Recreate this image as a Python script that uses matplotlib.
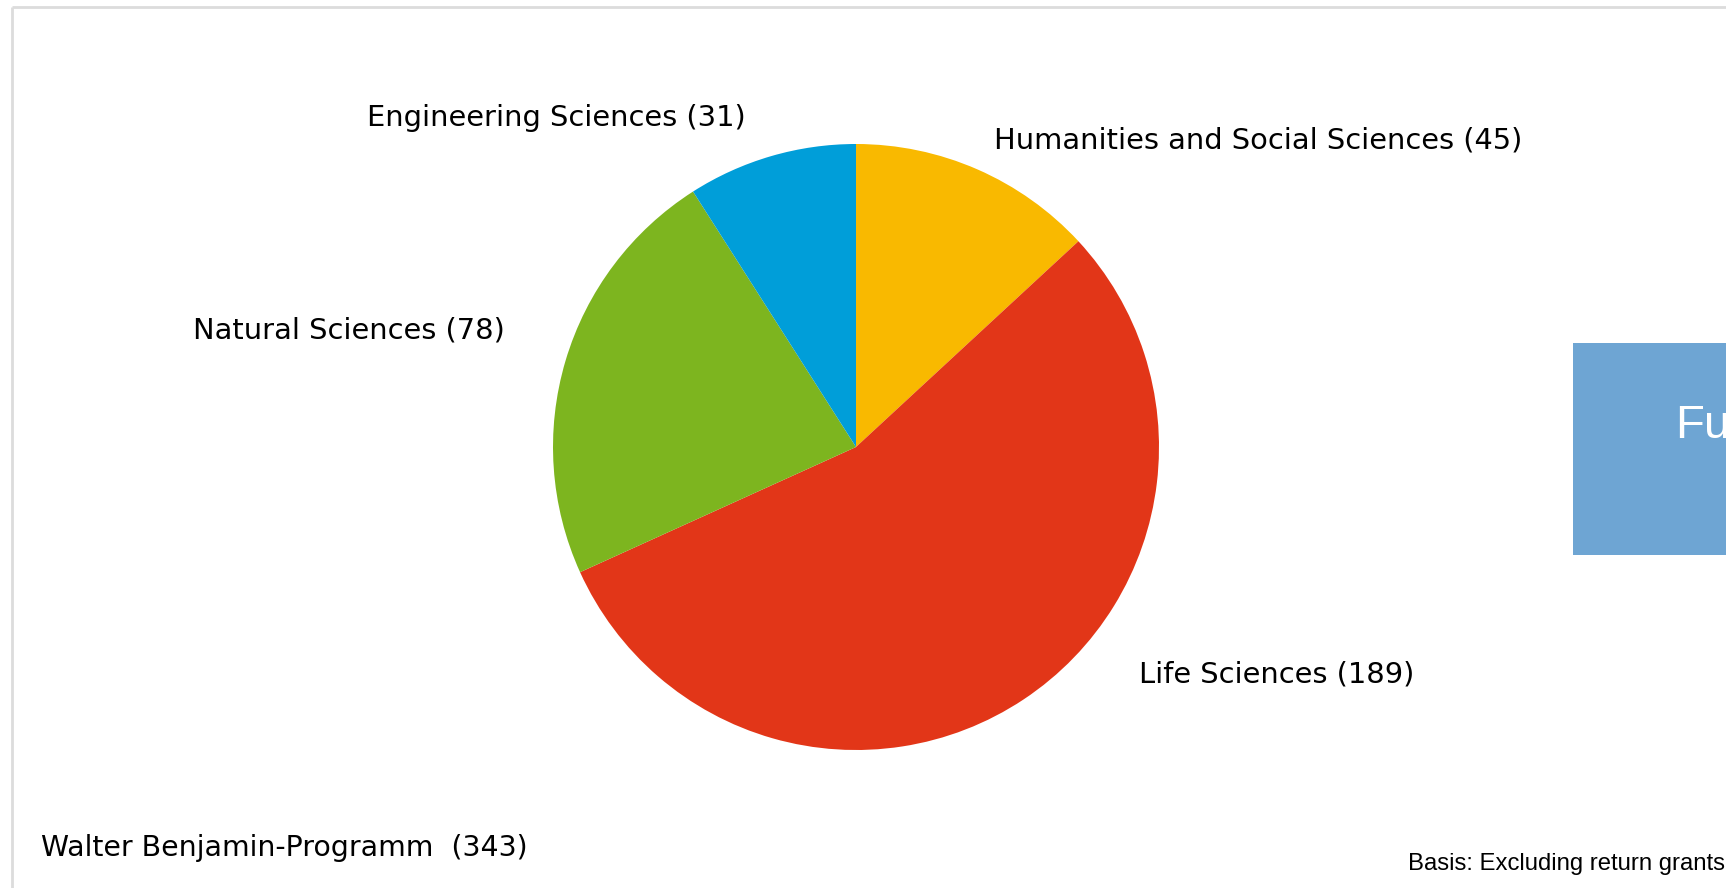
import numpy as np
import matplotlib.pyplot as plt
from matplotlib.patches import Rectangle

# data
categories = ['Humanities and Social Sciences', 'Life Sciences',
              'Natural Sciences', 'Engineering Sciences']
counts = [45, 189, 78, 31]
colors = ['#F9B900', '#E23618', '#7DB51F', '#009ED9']
total_label = 'Walter Benjamin-Programm  (343)'
note = 'Basis: Excluding return grants'

W, H = 1726, 888
fig = plt.figure(figsize=(W / 100, H / 100), dpi=100)
ax = fig.add_axes([0, 0, 1, 1])

plt.rcParams['font.family'] = ['DejaVu Sans']

# outer light frame (cropped on right and bottom)
ax.plot([12, 12], [0, H - 7], color='#DCDCDC', lw=2, solid_capstyle='butt')
ax.plot([12, W], [H - 7, H - 7], color='#DCDCDC', lw=2, solid_capstyle='butt')

ax.pie(counts, colors=colors, startangle=90, counterclock=False,
       center=(856, H - 447), radius=303, frame=True,
       wedgeprops=dict(linewidth=0))
ax.set_xlim(0, W)
ax.set_ylim(0, H)
ax.set_aspect('equal')
ax.axis('off')

# slice labels (pixel positions of the reference)
label_pos = [(994, 140), (1139, 674), (193, 330), (367, 118)]
for name, n, (x, y) in zip(categories, counts, label_pos):
    ax.text(x, H - y, f'{name} ({n})', fontsize=20.8, ha='left', va='center')

ax.text(41, H - 848, total_label, fontsize=20.4, ha='left', va='center')
ax.text(1408, H - 864, note, fontsize=17.2, family='Liberation Sans',
        ha='left', va='center')

# blue box on the right, cut off by the edge
ax.add_patch(Rectangle((1573, H - 555), 200, 212, color='#6EA5D3', lw=0, clip_on=False))
ax.text(1675, H - 438, 'Fu', fontsize=34, color='white',
        family='Liberation Sans', ha='left', va='baseline')

fig.savefig('out.png', dpi=100)
